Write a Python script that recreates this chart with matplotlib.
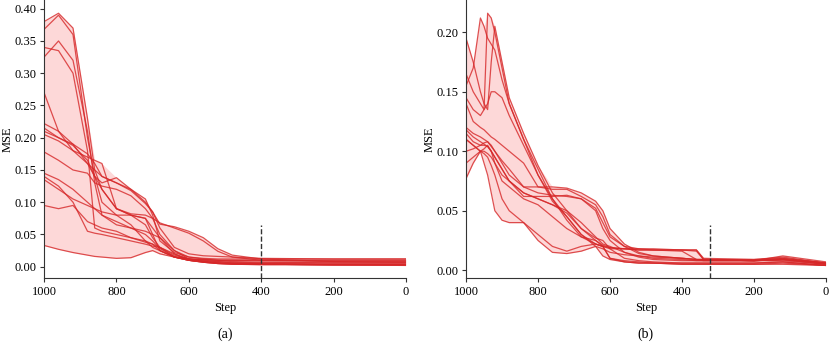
import numpy as np
import matplotlib
matplotlib.use('Agg')
import matplotlib.pyplot as plt

plt.rcParams['font.family'] = ['Liberation Serif', 'DejaVu Serif']
plt.rcParams['font.size'] = 9

# ---- panel (a) ----
steps_a = [1000, 960, 920, 880, 860, 840, 800, 760, 720, 700, 680, 640, 600, 560, 520, 480, 400, 200, 0]
curves_a = [
    [0.380, 0.393, 0.370, 0.230, 0.150, 0.120, 0.090, 0.080, 0.075, 0.060, 0.045, 0.020, 0.012, 0.009, 0.008, 0.006, 0.005, 0.004, 0.004],
    [0.368, 0.390, 0.360, 0.200, 0.140, 0.100, 0.080, 0.080, 0.065, 0.045, 0.030, 0.015, 0.010, 0.008, 0.006, 0.005, 0.004, 0.003, 0.003],
    [0.340, 0.335, 0.300, 0.180, 0.060, 0.055, 0.050, 0.045, 0.040, 0.035, 0.030, 0.018, 0.012, 0.010, 0.008, 0.007, 0.006, 0.006, 0.006],
    [0.325, 0.350, 0.320, 0.210, 0.130, 0.080, 0.070, 0.060, 0.050, 0.040, 0.028, 0.016, 0.012, 0.011, 0.010, 0.010, 0.009, 0.009, 0.009],
    [0.222, 0.210, 0.190, 0.175, 0.160, 0.140, 0.130, 0.118, 0.098, 0.085, 0.066, 0.062, 0.055, 0.045, 0.028, 0.018, 0.012, 0.008, 0.007],
    [0.215, 0.200, 0.190, 0.160, 0.140, 0.120, 0.090, 0.082, 0.080, 0.075, 0.068, 0.060, 0.052, 0.040, 0.024, 0.015, 0.010, 0.008, 0.008],
    [0.210, 0.200, 0.188, 0.165, 0.140, 0.130, 0.138, 0.120, 0.105, 0.080, 0.040, 0.022, 0.015, 0.013, 0.012, 0.012, 0.012, 0.012, 0.012],
    [0.205, 0.195, 0.180, 0.170, 0.165, 0.160, 0.090, 0.080, 0.075, 0.050, 0.025, 0.015, 0.012, 0.011, 0.010, 0.010, 0.010, 0.010, 0.010],
    [0.270, 0.210, 0.180, 0.160, 0.150, 0.140, 0.130, 0.120, 0.100, 0.085, 0.060, 0.030, 0.020, 0.017, 0.016, 0.015, 0.013, 0.012, 0.012],
    [0.178, 0.165, 0.150, 0.145, 0.130, 0.125, 0.120, 0.110, 0.090, 0.075, 0.050, 0.025, 0.015, 0.012, 0.010, 0.008, 0.007, 0.006, 0.006],
    [0.145, 0.135, 0.120, 0.100, 0.090, 0.080, 0.065, 0.060, 0.055, 0.050, 0.045, 0.025, 0.012, 0.008, 0.006, 0.005, 0.004, 0.003, 0.003],
    [0.140, 0.125, 0.100, 0.055, 0.052, 0.050, 0.045, 0.040, 0.035, 0.032, 0.030, 0.020, 0.010, 0.007, 0.005, 0.004, 0.004, 0.003, 0.003],
    [0.135, 0.120, 0.105, 0.095, 0.090, 0.085, 0.080, 0.065, 0.040, 0.030, 0.025, 0.015, 0.010, 0.007, 0.005, 0.004, 0.004, 0.003, 0.003],
    [0.095, 0.090, 0.095, 0.070, 0.065, 0.060, 0.055, 0.045, 0.038, 0.035, 0.025, 0.015, 0.010, 0.008, 0.006, 0.005, 0.004, 0.004, 0.004],
    [0.033, 0.027, 0.022, 0.018, 0.016, 0.015, 0.013, 0.014, 0.022, 0.025, 0.020, 0.015, 0.010, 0.007, 0.005, 0.004, 0.003, 0.003, 0.002],
]
cut_a = 400
cut_top_a = 0.065

# ---- panel (b) ----
steps_b = [1000, 980, 960, 950, 940, 930, 920, 900, 880, 840, 800, 760, 720, 680, 640, 620, 600, 560, 520, 480, 400, 360, 340, 200, 120, 0]
curves_b = [
    [0.195, 0.175, 0.150, 0.140, 0.135, 0.175, 0.205, 0.175, 0.145, 0.115, 0.088, 0.065, 0.050, 0.035, 0.025, 0.021, 0.019, 0.018, 0.018, 0.018, 0.017, 0.017, 0.010, 0.009, 0.011, 0.006],
    [0.165, 0.150, 0.140, 0.135, 0.216, 0.212, 0.200, 0.170, 0.140, 0.110, 0.085, 0.060, 0.045, 0.030, 0.022, 0.020, 0.019, 0.018, 0.017, 0.017, 0.017, 0.016, 0.009, 0.009, 0.010, 0.006],
    [0.155, 0.170, 0.212, 0.205, 0.195, 0.190, 0.185, 0.160, 0.140, 0.110, 0.080, 0.060, 0.042, 0.028, 0.022, 0.020, 0.018, 0.018, 0.017, 0.017, 0.016, 0.009, 0.009, 0.008, 0.012, 0.007],
    [0.145, 0.135, 0.130, 0.135, 0.140, 0.150, 0.150, 0.145, 0.130, 0.105, 0.080, 0.058, 0.045, 0.030, 0.020, 0.018, 0.015, 0.013, 0.012, 0.011, 0.010, 0.009, 0.009, 0.008, 0.010, 0.006],
    [0.140, 0.125, 0.120, 0.118, 0.115, 0.112, 0.110, 0.105, 0.100, 0.090, 0.070, 0.068, 0.068, 0.062, 0.055, 0.045, 0.030, 0.020, 0.014, 0.012, 0.010, 0.009, 0.009, 0.008, 0.009, 0.006],
    [0.120, 0.115, 0.112, 0.110, 0.108, 0.104, 0.100, 0.090, 0.080, 0.070, 0.070, 0.070, 0.069, 0.065, 0.058, 0.050, 0.035, 0.022, 0.015, 0.012, 0.010, 0.009, 0.008, 0.008, 0.009, 0.005],
    [0.115, 0.108, 0.105, 0.107, 0.108, 0.105, 0.100, 0.092, 0.085, 0.070, 0.065, 0.063, 0.062, 0.060, 0.050, 0.035, 0.025, 0.015, 0.011, 0.009, 0.008, 0.008, 0.008, 0.008, 0.009, 0.005],
    [0.110, 0.105, 0.100, 0.102, 0.105, 0.100, 0.095, 0.085, 0.075, 0.065, 0.060, 0.055, 0.050, 0.040, 0.028, 0.022, 0.020, 0.015, 0.012, 0.010, 0.009, 0.008, 0.008, 0.008, 0.008, 0.005],
    [0.100, 0.102, 0.105, 0.105, 0.104, 0.100, 0.090, 0.080, 0.075, 0.065, 0.060, 0.055, 0.048, 0.035, 0.027, 0.025, 0.018, 0.010, 0.008, 0.007, 0.006, 0.006, 0.006, 0.006, 0.007, 0.004],
    [0.090, 0.095, 0.100, 0.100, 0.098, 0.095, 0.090, 0.075, 0.070, 0.060, 0.055, 0.045, 0.035, 0.028, 0.025, 0.020, 0.010, 0.007, 0.006, 0.006, 0.005, 0.005, 0.005, 0.005, 0.006, 0.004],
    [0.077, 0.090, 0.100, 0.098, 0.095, 0.088, 0.080, 0.060, 0.050, 0.040, 0.025, 0.015, 0.014, 0.016, 0.020, 0.012, 0.009, 0.007, 0.006, 0.006, 0.005, 0.005, 0.005, 0.005, 0.005, 0.004],
    [0.110, 0.105, 0.100, 0.090, 0.080, 0.065, 0.050, 0.042, 0.040, 0.040, 0.030, 0.020, 0.016, 0.020, 0.022, 0.020, 0.010, 0.008, 0.007, 0.006, 0.006, 0.006, 0.006, 0.006, 0.007, 0.004],
    [0.118, 0.112, 0.108, 0.106, 0.104, 0.100, 0.095, 0.085, 0.075, 0.062, 0.062, 0.062, 0.063, 0.060, 0.052, 0.040, 0.028, 0.020, 0.018, 0.017, 0.017, 0.017, 0.009, 0.008, 0.009, 0.006],
]
cut_b = 322
cut_top_b = 0.038

line_color = '#d62728'
fill_color = '#fdd8d8'


def panel(ax, steps, curves, cut, cut_top):
    arr = np.array(curves)
    ax.fill_between(steps, arr.min(axis=0), arr.max(axis=0), color=fill_color, lw=0)
    for c in curves:
        ax.plot(steps, c, color=line_color, lw=0.9, alpha=0.8)
    ax.set_xlim(1000, 0)
    ax.set_xticks([1000, 800, 600, 400, 200, 0])
    y0 = ax.get_ylim()[0]
    ax.plot([cut, cut], [y0, cut_top], color='#333333', ls='--', lw=1.0)
    ax.set_ylim(bottom=y0)
    for s in ['top', 'right']:
        ax.spines[s].set_visible(False)
    for s in ['left', 'bottom']:
        ax.spines[s].set_color('#333333')
    ax.tick_params(length=3, color='#333333', pad=2.5)
    ax.set_xlabel('Step', labelpad=3)
    ax.set_ylabel('MSE')
    ax.yaxis.set_label_coords(-0.085, 0.5)
    ax.yaxis.set_major_formatter(matplotlib.ticker.FormatStrFormatter('%.2f'))


fig = plt.figure(figsize=(8.31, 3.48), dpi=100)
ax1 = fig.add_axes([0.053, 0.201, 0.4356, 0.799])
ax2 = fig.add_axes([0.5608, 0.201, 0.4332, 0.799])

panel(ax1, steps_a, curves_a, cut_a, cut_top_a)
panel(ax2, steps_b, curves_b, cut_b, cut_top_b)
ax1.set_yticks(np.arange(0, 0.41, 0.05))
ax2.set_yticks(np.arange(0, 0.21, 0.05))

fig.text(0.271, 0.028, '(a)', ha='center', fontsize=10)
fig.text(0.777, 0.028, '(b)', ha='center', fontsize=10)

fig.savefig('out.png', dpi=100)
